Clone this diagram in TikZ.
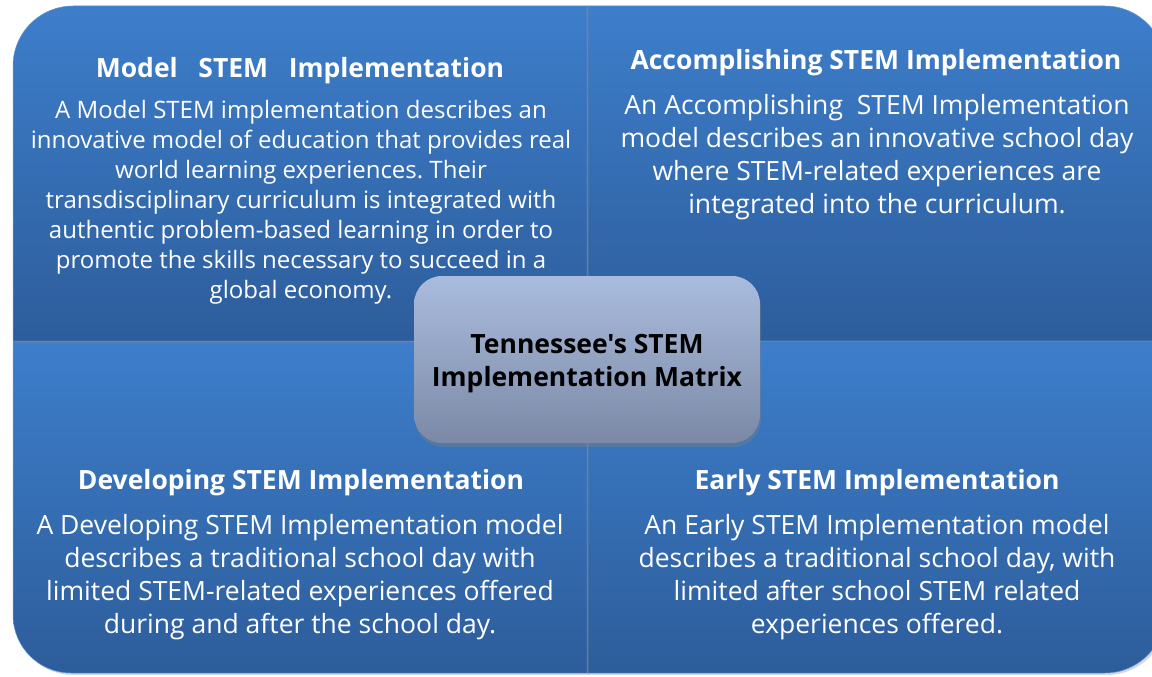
\documentclass[tikz,border=0pt]{standalone}
\usepackage{fontspec}
\setmainfont{Open Sans}[Ligatures=TeXOff]
\usetikzlibrary{shadows}
\definecolor{quadtop}{HTML}{3D7ECB}
\definecolor{quadbot}{HTML}{2D5D9B}
\definecolor{hubtop}{HTML}{AABCDE}
\definecolor{hubbot}{HTML}{7B89A5}
\frenchspacing
\begin{document}
\begin{tikzpicture}[x=1pt,y=-1pt]
        \tikzstyle{quad} = [top color=quadtop, bottom color=quadbot, draw=quadtop!80!white, line width=0.5pt, drop shadow={opacity=0.3, shadow xshift=2pt, shadow yshift=-2pt}]
        \tikzstyle{title} = [text=white, align=center, font=\bfseries\fontsize{26.5}{30}\selectfont]
        \tikzstyle{body} = [text=white, align=center, font=\fontsize{26.5}{33}\selectfont]
        \tikzstyle{smallbody} = [text=white, align=center, font=\fontsize{24}{30}\selectfont]
        \tikzstyle{hub} = [rectangle, rounded corners=28pt, minimum width=346pt, minimum height=167pt, top color=hubtop, bottom color=hubbot, draw=none, drop shadow={opacity=0.4, shadow xshift=1pt, shadow yshift=-4pt}]
        \tikzstyle{hubtext} = [align=center, font=\bfseries\fontsize{26.5}{33}\selectfont]

        \useasboundingbox[fill=white] (0,0) rectangle (1152,677);

        \path[quad] (587,6) -- (1105,6) arc[start angle=90, end angle=0, radius=60pt] -- (1165,341) -- (587,341) -- cycle;
        \path[quad] (587,341) -- (1165,341) -- (1165,613) arc[start angle=0, end angle=-90, radius=60pt] -- (587,673) -- cycle;
        \path[quad] (13,341) -- (13,615) arc[start angle=180, end angle=270, radius=58pt] -- (587,673) -- (587,341) -- cycle;
        \path[quad] (587,341) -- (13,341) -- (13,66) arc[start angle=180, end angle=90, radius=60pt] -- (587,6) -- cycle;

        \node (modelhead) [title] at (300,71) {Model\ \ \ STEM\ \ \ Implementation};
        \node (modeltext) [smallbody] at (301,202) {A Model STEM implementation describes an\\innovative model of education that provides real\\world learning experiences. Their\\transdisciplinary curriculum is integrated with\\authentic problem-based learning in order to\\promote the skills necessary to succeed in a\\global economy.};
        \node (acchead) [title] at (876,63) {Accomplishing STEM Implementation};
        \node (acctext) [body] at (877,157) {An Accomplishing\ \ STEM Implementation\\model describes an innovative school day\\where STEM-related experiences are\\integrated into the curriculum.};
        \node (devhead) [title] at (301,483) {Developing STEM Implementation};
        \node (devtext) [body] at (300,577) {A Developing STEM Implementation model\\describes a traditional school day with\\limited STEM-related experiences offered\\during and after the school day.};
        \node (earlyhead) [title] at (877,483) {Early STEM Implementation};
        \node (earlytext) [body] at (877,577) {An Early STEM Implementation model\\describes a traditional school day, with\\limited after school STEM related\\experiences offered.};

        \node (hub) [hub] at (587,359.5) {};
        \node (hublabel) [hubtext] at (587,363.5) {Tennessee's STEM\\Implementation Matrix};
    \end{tikzpicture}
\end{document}
